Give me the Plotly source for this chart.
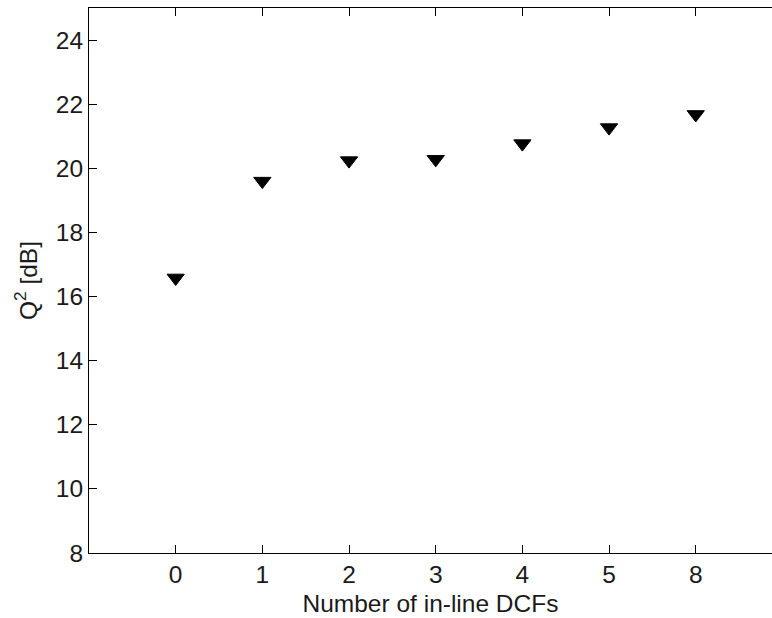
import plotly.graph_objects as go

categories = ["0", "1", "2", "3", "4", "5", "8"]
q2_db = [16.58, 19.6, 20.24, 20.28, 20.77, 21.27, 21.68]
y_ticks = [8, 10, 12, 14, 16, 18, 20, 22, 24]

x_idx = list(range(len(categories)))

fig = go.Figure()
fig.add_trace(go.Scatter(
    x=x_idx, y=q2_db, mode="markers",
    marker=dict(symbol="triangle-down", size=15, color="black",
                line=dict(color="black", width=1)),
    showlegend=False,
))

font = dict(family="Liberation Sans, Arial, sans-serif", size=24.5, color="#1a1a1a")

fig.update_layout(
    width=772, height=618,
    margin=dict(l=89, r=0, t=8, b=65),
    paper_bgcolor="white", plot_bgcolor="white",
    font=font,
    xaxis=dict(
        range=[-1, 6.88], tickmode="array", tickvals=x_idx, ticktext=categories,
        ticks="inside", ticklen=8, tickwidth=1, tickcolor="black",
        showline=True, linecolor="black", linewidth=1, mirror="ticks",
        showgrid=False, zeroline=False,
        title=dict(text="Number of in-line DCFs", standoff=7, font=font),
    ),
    yaxis=dict(
        range=[8, 25], tickmode="array", tickvals=y_ticks,
        ticks="inside", ticklen=8, tickwidth=1, tickcolor="black",
        showline=True, linecolor="black", linewidth=1, mirror=False,
        showgrid=False, zeroline=False,
        title=dict(text="Q<sup>2</sup> [dB]", standoff=11, font=font),
    ),
)

# remove the page's default body margin so the figure fills the window exactly
fig.write_html(
    "out.html",
    config={"displayModeBar": False},
    post_script="document.body.style.margin='0';document.body.style.overflow='hidden';",
)
